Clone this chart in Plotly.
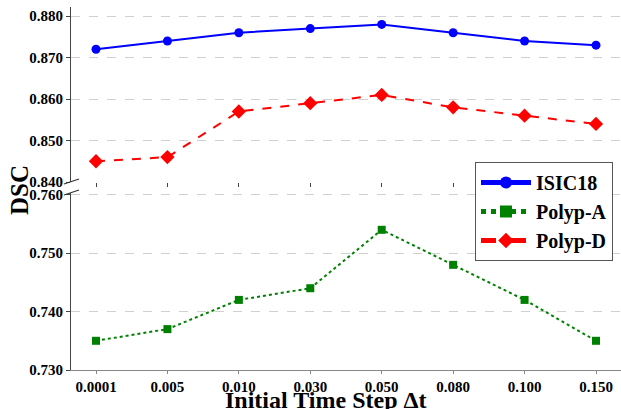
import plotly.graph_objects as go

steps = ["0.0001", "0.005", "0.010", "0.030", "0.050", "0.080", "0.100", "0.150"]
isic18 = [0.872, 0.874, 0.876, 0.877, 0.878, 0.876, 0.874, 0.873]
polyp_a = [0.735, 0.737, 0.742, 0.744, 0.754, 0.748, 0.742, 0.735]
polyp_d = [0.845, 0.846, 0.857, 0.859, 0.861, 0.858, 0.856, 0.854]
top_ticks = [0.840, 0.850, 0.860, 0.870, 0.880]
bottom_ticks = [0.730, 0.740, 0.750, 0.760]

FONT = "Liberation Serif"
L, R, T, B = 71, 0, 7, 39
PW, PH = 621 - L - R, 409 - T - B


def px(xp):
    return (xp - L) / PW


def py(yp):
    return (409 - B - yp) / PH


fig = go.Figure()

fig.add_trace(go.Scatter(x=steps, y=isic18, name="ISIC18", mode="lines+markers",
                         line=dict(color="blue", width=2),
                         marker=dict(symbol="circle", size=9, color="blue"),
                         xaxis="x2", yaxis="y2"))
fig.add_trace(go.Scatter(x=steps, y=polyp_a, name="Polyp-A", mode="lines+markers",
                         line=dict(color="green", width=2, dash="dot"),
                         marker=dict(symbol="square", size=8, color="green"),
                         xaxis="x", yaxis="y"))
fig.add_trace(go.Scatter(x=steps, y=polyp_d, name="Polyp-D", mode="lines+markers",
                         line=dict(color="red", width=2, dash="dash"),
                         marker=dict(symbol="diamond", size=11, color="red"),
                         xaxis="x2", yaxis="y2"))

tickfont = dict(family=FONT, size=15, color="black", weight="bold")
grid = dict(showgrid=True, gridcolor="#d0d0d0", gridwidth=0.8, griddash="dash")

fig.update_layout(
    width=621, height=409,
    margin=dict(l=L, r=R, t=T, b=B, autoexpand=False),
    plot_bgcolor="white", paper_bgcolor="white",
    font=dict(family=FONT, color="black"),
    showlegend=True,
    legend=dict(x=px(613), xanchor="right", y=py(162), yanchor="top",
                bgcolor="white", bordercolor="#555", borderwidth=1,
                font=dict(family=FONT, size=20, color="black", weight="bold"),
                tracegroupgap=0, itemsizing="constant", itemwidth=50),
    xaxis=dict(type="category", range=[-0.35, 7.35], anchor="y", automargin=False,
               showline=True, linecolor="#888", linewidth=1.2,
               ticks="outside", ticklen=3, tickcolor="#888",
               tickfont=tickfont, showgrid=False),
    xaxis2=dict(type="category", range=[-0.35, 7.35], anchor="y2", matches="x",
                automargin=False,
                showline=False, ticks="outside", ticklen=4, tickcolor="#444",
                showticklabels=False, showgrid=False),
    yaxis=dict(domain=[0, py(193)], range=[0.730, 0.7603], anchor="x", automargin=False,
               tickvals=bottom_ticks, tickformat=".3f", tickfont=tickfont,
               showline=True, linecolor="#444", linewidth=1.2,
               ticks="outside", ticklen=4, tickcolor="#444",
               zeroline=False, **grid),
    yaxis2=dict(domain=[py(182), 1], range=[0.840, 0.8822], anchor="x2", automargin=False,
                tickvals=top_ticks, tickformat=".3f", tickfont=tickfont,
                showline=True, linecolor="#444", linewidth=1.2,
                ticks="outside", ticklen=4, tickcolor="#444",
                zeroline=False, **grid),
)

# axis titles
fig.add_annotation(text="<b>DSC</b>", x=px(19), y=py(190), xref="paper", yref="paper",
                   xanchor="center", yanchor="middle", textangle=-90, showarrow=False,
                   font=dict(family=FONT, size=25, color="black"))
fig.add_annotation(text="<b>Initial Time Step Δt</b>", x=px(326), y=py(400),
                   xref="paper", yref="paper", xanchor="center", yanchor="middle",
                   showarrow=False, font=dict(family=FONT, size=24, color="black"))

# broken-axis diagonal marks
for y0, y1 in [(184, 179), (195, 190)]:
    fig.add_shape(type="line", xref="paper", yref="paper",
                  x0=px(64), x1=px(79), y0=py(y0), y1=py(y1),
                  line=dict(color="#333", width=1.2))

fig.write_html("out.html", config={"displayModeBar": False},
               post_script="document.body.style.margin='0px';document.body.style.overflow='hidden';")
